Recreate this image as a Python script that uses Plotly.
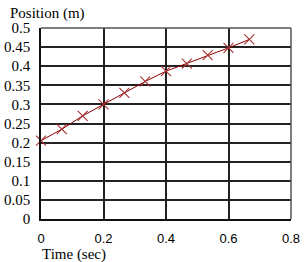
import plotly.graph_objects as go

time_sec = [0, 0.0667, 0.1333, 0.2, 0.2667, 0.3333, 0.4, 0.4667, 0.5333, 0.6, 0.6667]
position_m = [0.205, 0.235, 0.27, 0.3, 0.33, 0.36, 0.387, 0.407, 0.429, 0.448, 0.47]
x_ticks = [0, 0.2, 0.4, 0.6, 0.8]
x_tick_labels = ["0", "0.2", "0.4", "0.6", "0.8"]
y_ticks = [0, 0.05, 0.1, 0.15, 0.2, 0.25, 0.3, 0.35, 0.4, 0.45, 0.5]
y_tick_labels = ["0", "0.05", "0.1", "0.15", "0.2", "0.25", "0.3", "0.35", "0.4", "0.45", "0.5"]

SERIF = "Liberation Serif, Times New Roman, serif"
SANS = "Liberation Sans, Arial, sans-serif"

fig = go.Figure()
fig.add_trace(go.Scatter(
    x=time_sec, y=position_m, mode="lines+markers",
    line=dict(color="#8b0000", width=1),
    marker=dict(symbol="x-thin-open", size=10, line=dict(color="#a83232", width=1.1), color="#a83232"),
    showlegend=False, cliponaxis=False,
))

fig.update_layout(
    width=304, height=262,
    margin=dict(l=41, r=13, t=28, b=43),
    paper_bgcolor="white", plot_bgcolor="white",
    xaxis=dict(range=[0, 0.8], tickvals=x_ticks, ticktext=x_tick_labels,
               showgrid=True, gridcolor="#222", gridwidth=1.5,
               showline=True, linecolor="#111", linewidth=1.5, mirror=False,
               zeroline=False, ticks="", ticklabelstandoff=7, automargin=False,
               tickfont=dict(family=SANS, size=13, color="black")),
    yaxis=dict(range=[0, 0.5], tickvals=y_ticks, ticktext=y_tick_labels,
               showgrid=True, gridcolor="#222", gridwidth=1.5,
               showline=True, linecolor="#111", linewidth=1.5,
               zeroline=False, ticks="", ticklabelstandoff=6, automargin=False,
               tickfont=dict(family=SERIF, size=15, color="black")),
    shapes=[
        dict(type="line", xref="paper", yref="paper", x0=0, x1=1, y0=1, y1=1,
             line=dict(color="#555", width=1.5)),
        dict(type="line", xref="paper", yref="paper", x0=1, x1=1, y0=0, y1=1,
             line=dict(color="#555", width=1.5)),
    ],
    annotations=[
        dict(text="Position (m)", xref="paper", yref="paper", x=-0.132, y=1.0,
             xanchor="left", yanchor="middle", yshift=15, showarrow=False,
             font=dict(family=SERIF, size=15, color="black")),
        dict(text="Time (sec)", xref="paper", yref="paper", x=-0.004, y=0,
             xanchor="left", yanchor="middle", yshift=-35, showarrow=False,
             font=dict(family=SERIF, size=15, color="black")),
    ],
)

fig.write_html("out.html", config={"displayModeBar": False},
               post_script="document.body.style.margin='0';")
